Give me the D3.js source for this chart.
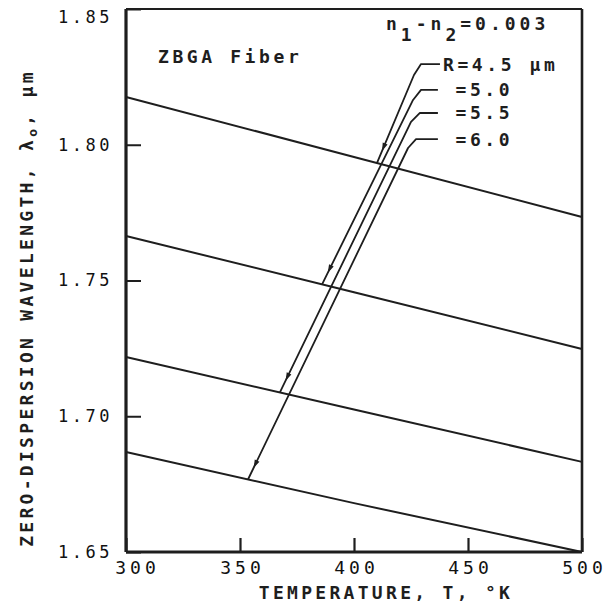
<!DOCTYPE html>
<html>
<head>
<meta charset="utf-8">
<script src="https://cdn.jsdelivr.net/npm/d3@7"></script>
<style>
  body { margin: 0; background: #fff; }
  svg text { font-family: "DejaVu Sans Mono", monospace; fill: #1e1e1e; font-weight: bold; }
  svg .tick text { font-weight: normal; fill: #111; }
</style>
</head>
<body>
<svg id="canvas" width="611" height="608"></svg>
<script>
// axis ticks
let tempTicks = [300, 350, 400, 450, 500];
let waveTicks = [1.65, 1.70, 1.75, 1.80, 1.85];

// zero-dispersion wavelength vs temperature, one line per core radius
let radii = ["4.5", "5.0", "5.5", "6.0"];
let curveTemps = [300, 400, 500];
let curveR45 = [1.8176, 1.7955, 1.7734];
let curveR50 = [1.7664, 1.7457, 1.7248];
let curveR55 = [1.7218, 1.7025, 1.6832];
let curveR60 = [1.6868, 1.6680, 1.6500];

// label leaders: [T, lambda] from the curve up to the label
let leaderR45 = [[410.1, 1.7933], [426.3, 1.8257], [429.4, 1.8297], [437.7, 1.8297]];
let leaderR50 = [[386.0, 1.7486], [425.9, 1.8165], [429.4, 1.8202], [436.8, 1.8202]];
let leaderR55 = [[367.5, 1.7088], [425.0, 1.8084], [428.9, 1.8117], [436.8, 1.8117]];
let leaderR60 = [[353.5, 1.6767], [423.7, 1.7988], [427.2, 1.8021], [436.8, 1.8021]];

let curves = [curveR45, curveR50, curveR55, curveR60];
let leaders = [leaderR45, leaderR50, leaderR55, leaderR60];

let plotLeft = 126, plotRight = 582, plotTop = 9, plotBottom = 552;
let ink = "#1e1e1e";

let svg = d3.select("#canvas");

let x = d3.scaleLinear().domain([300, 500]).range([plotLeft, plotRight]);
let y = d3.scaleLinear().domain([1.65, 1.85]).range([plotBottom, plotTop]);

// axes with inward ticks
let xAxis = d3.axisBottom(x)
  .tickValues(tempTicks)
  .tickSize(-14)
  .tickPadding(9)
  .tickFormat(d3.format("d"));
let gx = svg.append("g")
  .attr("transform", "translate(0," + plotBottom + ")")
  .call(xAxis);
gx.select(".domain").remove();
gx.selectAll("line").attr("stroke", ink).attr("stroke-width", 2.2);
gx.selectAll("text")
  .attr("font-size", 18)
  .attr("letter-spacing", 4)
  .attr("dx", d => d === 300 ? 11 : 2);

let yAxis = d3.axisLeft(y)
  .tickValues(waveTicks)
  .tickSize(-15)
  .tickPadding(13)
  .tickFormat(d3.format(".2f"));
let gy = svg.append("g")
  .attr("transform", "translate(" + plotLeft + ",0)")
  .call(yAxis);
gy.select(".domain").remove();
gy.selectAll("line").attr("stroke", ink).attr("stroke-width", 2);
gy.selectAll("text")
  .attr("font-size", 17)
  .attr("letter-spacing", 3.5)
  .attr("dy", d => d === 1.85 ? "0.8em" : "0.32em");

// frame
svg.append("line").attr("x1", plotLeft).attr("x2", plotRight).attr("y1", plotTop).attr("y2", plotTop)
  .attr("stroke", ink).attr("stroke-width", 2.2);
svg.append("line").attr("x1", plotRight).attr("x2", plotRight).attr("y1", plotTop).attr("y2", plotBottom)
  .attr("stroke", ink).attr("stroke-width", 2.6);
svg.append("line").attr("x1", plotLeft).attr("x2", plotRight).attr("y1", plotBottom).attr("y2", plotBottom)
  .attr("stroke", ink).attr("stroke-width", 3);
svg.append("line").attr("x1", plotLeft).attr("x2", plotLeft).attr("y1", plotTop).attr("y2", plotBottom)
  .attr("stroke", ink).attr("stroke-width", 3.2);

// curves
let line = d3.line()
  .x(d => x(d[0]))
  .y(d => y(d[1]));

svg.selectAll(".curve")
  .data(curves)
  .enter()
  .append("path")
  .attr("class", "curve")
  .attr("d", vals => line(curveTemps.map((t, i) => [t, vals[i]])))
  .attr("fill", "none")
  .attr("stroke", ink)
  .attr("stroke-width", 2);

// leaders
svg.selectAll(".leader")
  .data(leaders)
  .enter()
  .append("path")
  .attr("class", "leader")
  .attr("d", line)
  .attr("fill", "none")
  .attr("stroke", ink)
  .attr("stroke-width", 1.8)
  .attr("stroke-linejoin", "round");

// small arrowheads near the end of each leader
svg.selectAll(".arrow")
  .data(leaders)
  .enter()
  .append("path")
  .attr("class", "arrow")
  .attr("d", pts => {
    let x0 = x(pts[0][0]), y0 = y(pts[0][1]);
    let x1 = x(pts[1][0]), y1 = y(pts[1][1]);
    let len = Math.hypot(x1 - x0, y1 - y0);
    let ux = (x1 - x0) / len, uy = (y1 - y0) / len;
    let tx = x0 + ux * 13, ty = y0 + uy * 13;
    let bx = tx + ux * 8, by = ty + uy * 8;
    return "M" + tx + "," + ty +
      "L" + (bx - uy * 2.6) + "," + (by + ux * 2.6) +
      "L" + (bx + uy * 2.6) + "," + (by - ux * 2.6) + "Z";
  })
  .attr("fill", ink);

// leader labels
svg.selectAll(".rlabel")
  .data(leaders)
  .enter()
  .append("text")
  .attr("class", "rlabel")
  .attr("x", (pts, i) => x(pts[3][0]) + 3 + (i === 0 ? 0 : 14.6))
  .attr("y", pts => y(pts[3][1]))
  .attr("dy", "0.36em")
  .attr("font-size", 18)
  .attr("letter-spacing", 3.6)
  .text((pts, i) => i === 0 ? "R=" + radii[i] + " μm" : "=" + radii[i]);

// annotations
svg.append("text")
  .attr("x", 158)
  .attr("y", 63)
  .attr("font-size", 18)
  .attr("letter-spacing", 3.6)
  .text("ZBGA Fiber");

let dn = svg.append("text")
  .attr("x", 386)
  .attr("y", 30)
  .attr("font-size", 18)
  .attr("letter-spacing", 4);
dn.append("tspan").text("n");
dn.append("tspan").attr("dy", 11).text("1");
dn.append("tspan").attr("dy", -11).text("-n");
dn.append("tspan").attr("dy", 11).text("2");
dn.append("tspan").attr("dy", -11).text("=0.003");

// axis titles
svg.append("text")
  .attr("x", 386)
  .attr("y", 599)
  .attr("text-anchor", "middle")
  .attr("font-size", 18)
  .attr("letter-spacing", 3.3)
  .text("TEMPERATURE, T, °K");

let yt = svg.append("text")
  .attr("transform", "translate(33,308) rotate(-90)")
  .attr("text-anchor", "middle")
  .attr("font-size", 18)
  .attr("letter-spacing", 3.3);
yt.append("tspan").text("ZERO-DISPERSION WAVELENGTH, λ");
yt.append("tspan").attr("font-size", 13).attr("dy", 4).text("o");
yt.append("tspan").attr("dy", -4).text(", μm");
</script>
</body>
</html>
